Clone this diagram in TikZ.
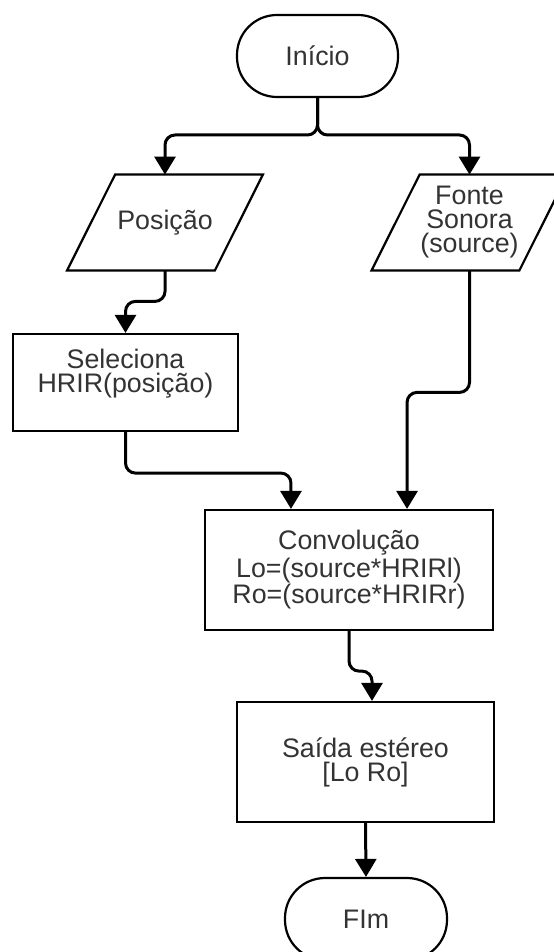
\documentclass[tikz,border=0pt]{standalone}
\usepackage{fontspec}
\setmainfont{Liberation Sans}
\usetikzlibrary{arrows.meta}
\usetikzlibrary{calc}
\tikzstyle{txt}=[font=\fontsize{13.4pt}{12pt}\selectfont,text=black!80,align=center]
\tikzstyle{terminal}=[txt,draw,line width=1.1pt,rounded corners=20pt,minimum width=80.5pt,minimum height=41pt]
\tikzstyle{process}=[txt,draw,line width=1.1pt,inner sep=0pt]
\tikzstyle{data}=[txt,inner sep=0pt,minimum width=73.5pt,minimum height=47.5pt]
\tikzstyle{dataframe}=[line width=1.1pt]
\tikzstyle{flow}=[line width=1.5pt,rounded corners=5pt,-{Triangle[length=9pt,width=10.5pt]}]

\begin{document}
\begin{tikzpicture}[x=0.5pt,y=-0.5pt]  % one unit = one pixel of the flowchart
\useasboundingbox (0,0) rectangle (553,952);

\node[terminal] (inicio) at (317.5,56) {Início};

\node[data] (posicao) at (165,222.5) {Posição};
\draw[dataframe] ([xshift=12pt]posicao.north west)
      -- ([xshift=12pt]posicao.north east)
      -- ([xshift=-12pt]posicao.south east)
      -- ([xshift=-12pt]posicao.south west) -- cycle;

\node[data] (fonte) at (469.5,222.5) {Fonte\\Sonora\\(source)};
\draw[dataframe] ([xshift=12pt]fonte.north west)
      -- ([xshift=12pt]fonte.north east)
      -- ([xshift=-12pt]fonte.south east)
      -- ([xshift=-12pt]fonte.south west) -- cycle;

\node[process,minimum width=112.5pt,minimum height=48.5pt] (seleciona) at (125.5,382.5)
      {Seleciona\\HRIR(posição)\\\mbox{}};
\node[process,minimum width=144pt,minimum height=60pt] (convolucao) at (349,570)
      {Convolução\\Lo=(source*HRIRl)\\Ro=(source*HRIRr)};
\node[process,minimum width=128.5pt,minimum height=60pt] (saida) at (365.5,762)
      {Saída estéreo\\{[}Lo Ro{]}};
\node[terminal,minimum width=81pt] (fim) at (366,919) {FIm};

% connectors
\coordinate (split) at (317.5,135);
\draw[flow] (inicio.south) -- (split) -| (posicao.north);
\draw[flow] (inicio.south) -- (split) -| (fonte.north);

\draw[flow] (posicao.south) -- ++(0,31) -| (seleciona.north);
\draw[flow] (seleciona.south) -- ++(0,41)
      -| ($(convolucao.north west)!0.3!(convolucao.north east)$);
\draw[flow] (fonte.south) -- ++(0,122)
      -| ($(convolucao.north west)!0.7!(convolucao.north east)$);
\draw[flow] (convolucao.south) -- ++(0,40) -| ([xshift=3.25pt]saida.north);
\draw[flow] (saida.south) -- (fim.north);
\end{tikzpicture}
\end{document}
